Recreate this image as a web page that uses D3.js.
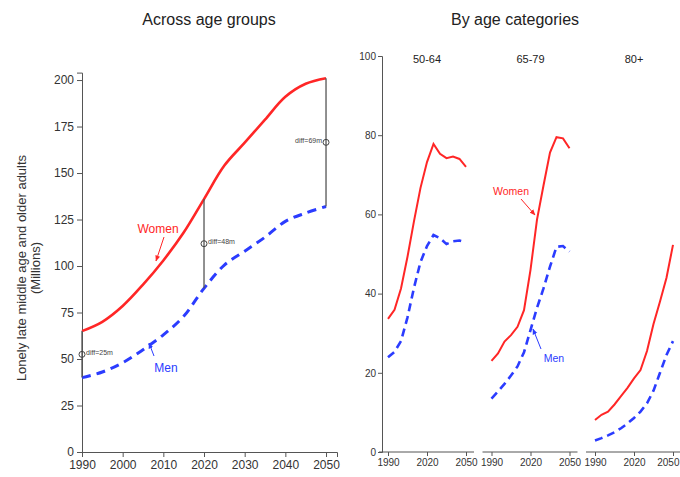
<!DOCTYPE html>
<html><head><meta charset="utf-8">
<script src="https://cdn.jsdelivr.net/npm/d3@7"></script>
<style>body{margin:0;background:#fff}svg{font-family:"Liberation Sans",Arial,sans-serif}</style>
</head><body><svg id="c" width="680" height="477"></svg>
<script>
const years = [1990,1995,2000,2005,2010,2015,2020,2025,2030,2035,2040,2045,2050];
const allWomen = [65,70,78.5,90,103,118,136,154,166.3,178.7,191,198,201];
const allMen   = [40,43,48,55,63,73,88,100.5,108,115.5,124,128.5,132];
const diffYears = [1990,2020,2050];
const diffLabels = ["diff=25m","diff=48m","diff=69m"];
const ageCats = ["50-64","65-79","80+"];
const catWomen = [
  [33.6,35.9,41.3,49.3,58.3,66.7,73.2,77.8,75.3,74.2,74.6,74,72],
  [23,24.9,27.9,29.5,31.6,35.8,46,58.7,67.3,75.6,79.5,79.2,76.7],
  [8.1,9.4,10.2,12,14.1,16.2,18.6,20.7,25.5,32.3,38,44,52.3]
];
const catMen = [
  [23.9,25.3,28,34,41.5,48,52,54.8,54,52.5,53.2,53.4,53],
  [13.5,15.3,17.2,19.3,21.6,25.2,30.8,36.4,41.3,46.8,51.8,52,50.6],
  [2.9,3.5,4.2,5,6,7.2,8.6,10.2,12.3,15.5,20,24.5,28]
];
const leftYTicks = [0,25,50,75,100,125,150,175,200];
const leftXTicks = [1990,2000,2010,2020,2030,2040,2050];
const rightYTicks = [0,20,40,60,80,100];
const rightXTicks = [1990,2020,2050];

const RED = "#ff2626", BLUE = "#2b3cff", AX = "#555";
const svg = d3.select("#c");
const defs = svg.append("defs");
[["ar",RED],["ab",BLUE]].forEach(([id,c])=>{
  defs.append("marker").attr("id",id).attr("viewBox","0 0 10 10").attr("refX",9).attr("refY",5)
    .attr("markerWidth",6).attr("markerHeight",6).attr("orient","auto")
    .append("path").attr("d","M0,1L10,5L0,9Z").attr("fill",c);
});

// Titles
svg.append("text").attr("x",209).attr("y",25).attr("text-anchor","middle").attr("font-size",16).attr("fill","#222").text("Across age groups");
svg.append("text").attr("x",515).attr("y",25).attr("text-anchor","middle").attr("font-size",16).attr("fill","#222").text("By age categories");

// Left panel
const x = d3.scaleLinear().domain([1990,2052.7]).range([82,337]);
const y = d3.scaleLinear().domain([0,204]).range([452,72.6]);
const gx = svg.append("g").attr("transform","translate(0,452)")
  .call(d3.axisBottom(x).tickValues(leftXTicks).tickFormat(d3.format("d")).tickSizeOuter(0).tickSize(5));
const gy = svg.append("g").attr("transform","translate(82,0)")
  .call(d3.axisLeft(y).tickValues(leftYTicks).tickSizeOuter(0).tickSize(5));
[gx,gy].forEach(g=>{g.selectAll("path,line").attr("stroke",AX);g.selectAll("text").attr("font-size",12).attr("fill","#333").attr("font-family","Liberation Sans, Arial, sans-serif");});
gy.selectAll("text").attr("x",-8);

svg.append("text").attr("transform","translate(26,268) rotate(-90)").attr("text-anchor","middle").attr("font-size",13).attr("fill","#333").text("Lonely late middle age and older adults");
svg.append("text").attr("transform","translate(40,268) rotate(-90)").attr("text-anchor","middle").attr("font-size",13).attr("fill","#333").text("(Millions)");

const lineL = d3.line().x((d,i)=>x(years[i])).y(d=>y(d)).curve(d3.curveCatmullRom.alpha(0.5));
svg.append("path").attr("d",lineL(allWomen)).attr("fill","none").attr("stroke",RED).attr("stroke-width",2.6).attr("stroke-linejoin","round");
svg.append("path").attr("d",lineL(allMen)).attr("fill","none").attr("stroke",BLUE).attr("stroke-width",3).attr("stroke-dasharray","9,6");

diffYears.forEach((yr,k)=>{
  const i = years.indexOf(yr);
  const w = allWomen[i], m = allMen[i], mid=(w+m)/2;
  svg.append("line").attr("x1",x(yr)).attr("x2",x(yr)).attr("y1",y(w)).attr("y2",y(m)).attr("stroke","#555").attr("stroke-width",1.3);
  svg.append("circle").attr("cx",x(yr)).attr("cy",y(mid)).attr("r",3).attr("fill","none").attr("stroke","#444").attr("stroke-width",1);
  const right = k<2;
  svg.append("text").attr("x",x(yr)+(right?4:-4)).attr("y",y(mid)).attr("dy","0.1em")
    .attr("text-anchor",right?"start":"end").attr("font-size",7).attr("fill","#444").text(diffLabels[k]);
});
svg.append("text").attr("x",158).attr("y",233).attr("text-anchor","middle").attr("font-size",12).attr("fill",RED).text("Women");
svg.append("line").attr("x1",164).attr("y1",237).attr("x2",156).attr("y2",261).attr("stroke",RED).attr("stroke-width",1).attr("marker-end","url(#ar)");
svg.append("text").attr("x",166).attr("y",372).attr("text-anchor","middle").attr("font-size",12).attr("fill",BLUE).text("Men");
svg.append("line").attr("x1",154).attr("y1",356).attr("x2",149).attr("y2",343).attr("stroke",BLUE).attr("stroke-width",1).attr("marker-end","url(#ab)");

// Right panels
const yr2 = d3.scaleLinear().domain([0,100]).range([452,56]);
const gy2 = svg.append("g").attr("transform","translate(382,0)")
  .call(d3.axisLeft(yr2).tickValues(rightYTicks).tickSizeOuter(0).tickSize(4));
gy2.selectAll("path,line").attr("stroke",AX);
gy2.selectAll("text").attr("font-size",10).attr("fill","#333").attr("font-family","Liberation Sans, Arial, sans-serif").attr("x",-6);

ageCats.forEach((cat,p)=>{
  const left = 380 + p*103.5;
  const xp = d3.scaleLinear().domain([1990,2050]).range([left+8,left+86]);
  const ax = svg.append("g").attr("transform","translate(0,452)")
    .call(d3.axisBottom(xp).tickValues(rightXTicks).tickFormat(d3.format("d")).tickSizeOuter(0).tickSize(4));
  ax.select(".domain").attr("d",`M${left-1},0H${left+94}`);
  ax.selectAll("path,line").attr("stroke",AX);
  ax.selectAll("text").attr("font-size",10).attr("fill","#333").attr("font-family","Liberation Sans, Arial, sans-serif");
  if (p === ageCats.length-1) {
    ax.selectAll("text").filter(d=>d===2050).attr("text-anchor","end").attr("x",679-xp(2050));
  }
  svg.append("text").attr("x",left+47).attr("y",63).attr("text-anchor","middle").attr("font-size",11).attr("fill","#222").text(cat);
  const ln = d3.line().x((d,i)=>xp(years[i])).y(d=>yr2(d));
  svg.append("path").attr("d",ln(catWomen[p])).attr("fill","none").attr("stroke",RED).attr("stroke-width",2);
  svg.append("path").attr("d",ln(catMen[p])).attr("fill","none").attr("stroke",BLUE).attr("stroke-width",2.6).attr("stroke-dasharray","8,5");
});
svg.append("text").attr("x",511).attr("y",195).attr("text-anchor","middle").attr("font-size",10.5).attr("fill",RED).text("Women");
svg.append("line").attr("x1",521).attr("y1",199).attr("x2",535).attr("y2",215).attr("stroke",RED).attr("stroke-width",1).attr("marker-end","url(#ar)");
svg.append("text").attr("x",554).attr("y",362).attr("text-anchor","middle").attr("font-size",10.5).attr("fill",BLUE).text("Men");
svg.append("line").attr("x1",541).attr("y1",349).attr("x2",533).attr("y2",329).attr("stroke",BLUE).attr("stroke-width",1).attr("marker-end","url(#ab)");
</script></body></html>
